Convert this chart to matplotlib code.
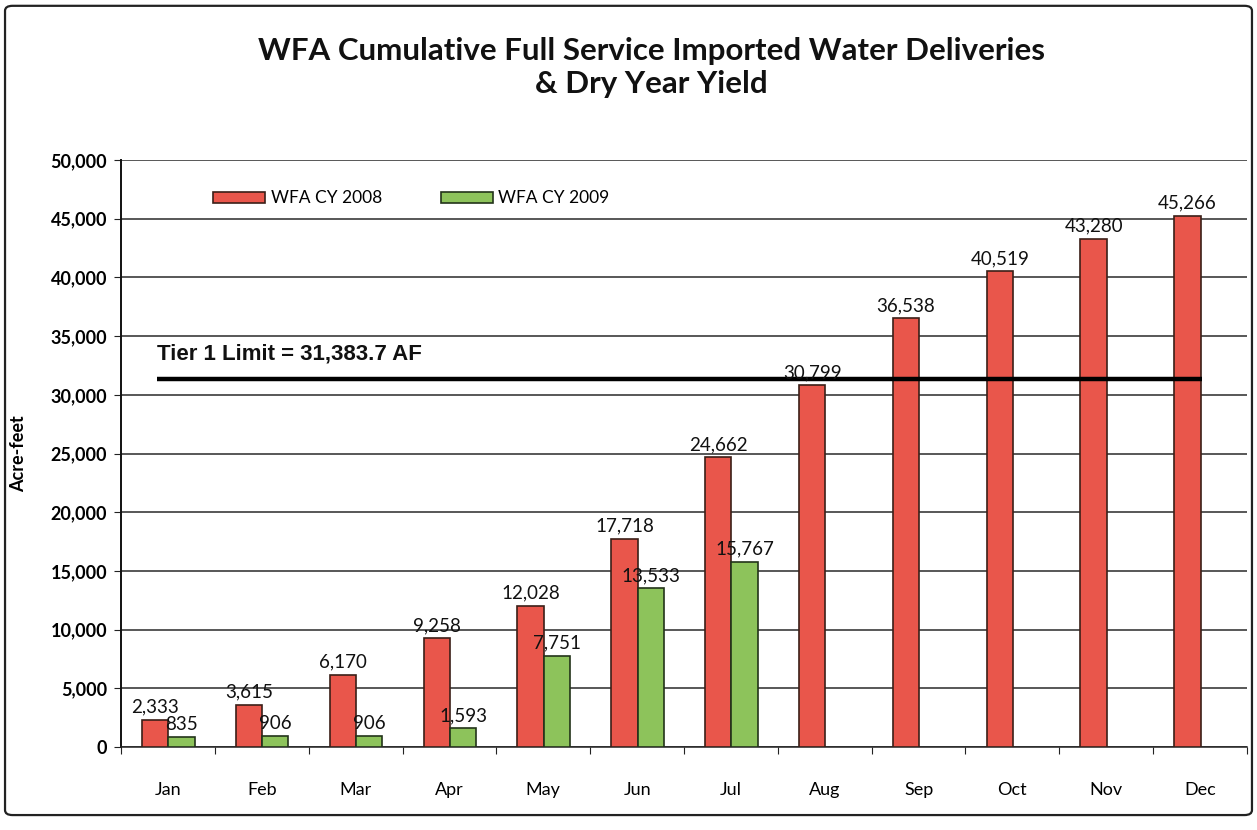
import matplotlib
matplotlib.use("Agg")
import matplotlib.pyplot as plt
import numpy as np
from matplotlib.patches import FancyBboxPatch

months = ["Jan", "Feb", "Mar", "Apr", "May", "Jun", "Jul", "Aug", "Sep", "Oct", "Nov", "Dec"]
cy2008 = [2333, 3615, 6170, 9258, 12028, 17718, 24662, 30799, 36538, 40519, 43280, 45266]
cy2009 = [835, 906, 906, 1593, 7751, 13533, 15767]
tier1_limit = 31383.7
yticks = [0, 5000, 10000, 15000, 20000, 25000, 30000, 35000, 40000, 45000, 50000]

FONT = ["Lato", "DejaVu Sans"]
plt.rcParams["font.family"] = FONT

fig = plt.figure(figsize=(12.57, 8.30), dpi=100)
fig.patch.set_facecolor("white")

# chart-area border
border = FancyBboxPatch((0.004, 0.018), 0.992, 0.975, boxstyle="round,pad=0,rounding_size=0.006",
                        transform=fig.transFigure, fill=False, edgecolor="#222222", linewidth=1.6)
fig.patches.append(border)

ax = fig.add_axes([121 / 1257, 1 - 747 / 830, (1247 - 121) / 1257, (747 - 160) / 830])

x = np.arange(len(months))
w = 0.28
red = "#E9564B"
green = "#8DC35B"
b1 = ax.bar(x[:len(cy2008)] - w / 2 + 0.005, cy2008, width=w, color=red, edgecolor="#3b1f18",
            linewidth=1.2, label="WFA CY 2008", zorder=3)
x9 = x[:len(cy2009)]
b2 = ax.bar(x9 + w / 2 + 0.005, cy2009, width=w, color=green, edgecolor="#23331a",
            linewidth=1.2, label="WFA CY 2009", zorder=3)

for rect, v in zip(b1, cy2008):
    ax.annotate(f"{v:,}", (rect.get_x() + rect.get_width() / 2, v), xytext=(0, 3),
                textcoords="offset points", ha="center", va="bottom", fontsize=13.5,
                color="#111111", zorder=5)
for rect, v in zip(b2, cy2009):
    ax.annotate(f"{v:,}", (rect.get_x() + rect.get_width() / 2, v), xytext=(0, 3),
                textcoords="offset points", ha="center", va="bottom", fontsize=13.5,
                color="#111111", zorder=5)

# Tier 1 limit line
ax.hlines(tier1_limit, -0.12, 11.02, colors="black", linewidth=3.2, zorder=4)
ax.text(-0.12, tier1_limit + 1200, f"Tier 1 Limit = {tier1_limit:,.1f} AF", ha="left", va="bottom",
        fontsize=16, fontweight="bold", family=["Liberation Sans", "DejaVu Sans"], color="#111111")

ax.set_xlim(-0.5, len(months) - 0.5)
ax.set_ylim(0, 50000)
ax.set_yticks(yticks)
ax.set_yticklabels([f"{t:,}" for t in yticks], fontsize=13, fontweight="bold")
ax.yaxis.grid(True, color="#2a2a2a", linewidth=1.1, zorder=0)
ax.set_axisbelow(True)

ax.set_xticks(np.arange(-0.5, len(months) + 0.5, 1.0))
ax.set_xticklabels([])
ax.set_xticks(x, minor=True)
ax.set_xticklabels(months, minor=True, fontsize=13)
ax.tick_params(axis="x", which="major", length=5, direction="out", color="#222222")
ax.tick_params(axis="x", which="minor", length=0, pad=25)
ax.tick_params(axis="y", length=5, direction="out", color="#222222", pad=5)

for s in ["top", "right"]:
    ax.spines[s].set_visible(False)
ax.spines["left"].set_color("#111111")
ax.spines["left"].set_linewidth(1.4)
ax.spines["bottom"].set_color("#222222")
ax.spines["bottom"].set_linewidth(1.1)

ax.set_ylabel("Acre-feet", fontsize=13, fontweight="bold")
ax.yaxis.set_label_coords(-0.083, 0.5)

leg = ax.legend(loc="center left", bbox_to_anchor=(0.082, 0.935), ncol=2, frameon=False,
                fontsize=12.5, handlelength=3.0, handleheight=0.6, handletextpad=0.3,
                columnspacing=3.4, borderpad=0, borderaxespad=0)

fig.text(0.518, 1 - 51 / 830, "WFA Cumulative Full Service Imported Water Deliveries",
         ha="center", va="center", fontsize=22.5, fontweight="bold", color="#111111")
fig.text(0.518, 1 - 84 / 830, "& Dry Year Yield",
         ha="center", va="center", fontsize=22.5, fontweight="bold", color="#111111")

fig.savefig("out.png", dpi=100)
